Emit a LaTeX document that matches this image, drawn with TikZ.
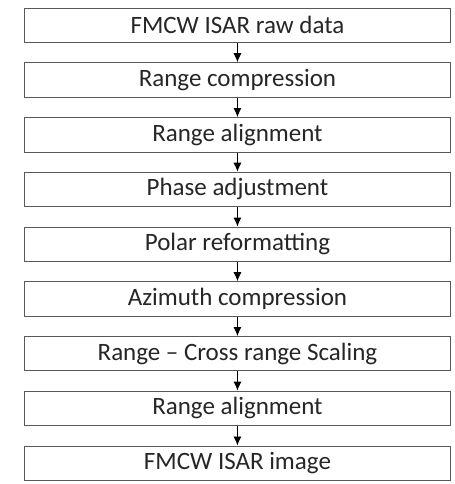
\documentclass[tikz,border=0pt]{standalone}
\usepackage{fontspec}
\setmainfont{Carlito}
\usetikzlibrary{arrows.meta}

\begin{document}
\begin{tikzpicture}[
  every node/.style={align=center, font=\fontsize{25}{30}\selectfont, text=black!85},
  stage/.style={draw=black!65, line width=1pt, minimum height=1.21cm,
                minimum width=15.01cm, inner sep=0pt, fill=white},
  arr/.style={-{Latex[length=9pt,width=8pt]}, line width=0.9pt}
]
  \useasboundingbox (0,0) rectangle (16.0,-17.02);

  \node[stage] (a) at (8.35,-0.89) {FMCW ISAR raw data};
  \node[stage] (b) at (8.35,-2.81) {Range compression};
  \node[stage] (c) at (8.35,-4.74) {Range alignment};
  \node[stage] (d) at (8.35,-6.66) {Phase adjustment};
  \node[stage] (e) at (8.35,-8.59) {Polar reformatting};
  \node[stage] (f) at (8.35,-10.51) {Azimuth compression};
  \node[stage] (g) at (8.35,-12.44) {Range -- Cross range Scaling};
  \node[stage] (h) at (8.35,-14.36) {Range alignment};
  \node[stage] (i) at (8.35,-16.29) {FMCW ISAR image};

  \draw[arr] (a) -- (b);
  \draw[arr] (b) -- (c);
  \draw[arr] (c) -- (d);
  \draw[arr] (d) -- (e);
  \draw[arr] (e) -- (f);
  \draw[arr] (f) -- (g);
  \draw[arr] (g) -- (h);
  \draw[arr] (h) -- (i);
\end{tikzpicture}
\end{document}
